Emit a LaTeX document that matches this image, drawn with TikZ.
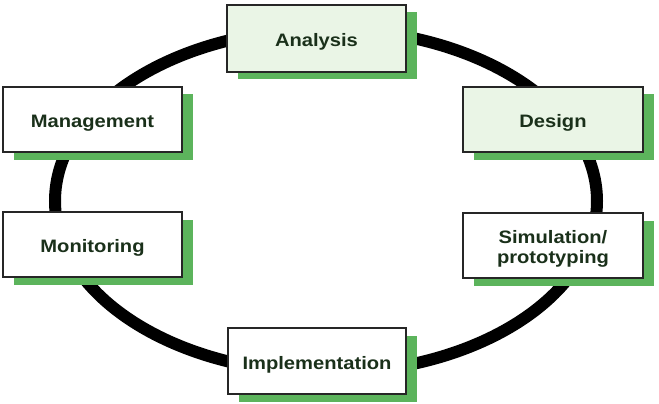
\documentclass[tikz,border=0pt]{standalone}
\usepackage{fontspec}
\setmainfont{Liberation Sans}[FakeStretch=1.12]
\usetikzlibrary{shadows}
\definecolor{shadowgreen}{RGB}{92,180,92}
\definecolor{lightfill}{RGB}{234,245,230}
\definecolor{txt}{RGB}{26,48,26}
\tikzset{
  box/.style={draw=black!85, line width=1.2pt, fill=white, minimum width=179pt, minimum height=65pt,
    inner sep=0pt,
    general shadow={fill=shadowgreen, shadow xshift=10.5pt, shadow yshift=-7.5pt}},
  greenbox/.style={box, fill=lightfill},
  boxtext/.style={align=center, text=txt, font=\fontsize{18}{20}\selectfont\bfseries, yshift=-3.5pt}
}
\begin{document}
\begin{tikzpicture}[x=1pt,y=-1pt]
\useasboundingbox (0,0) rectangle (659,404);
\draw[line width=12pt] (326,201) ellipse [x radius=271, y radius=172];
\node[greenbox, minimum height=67pt] (an) at (316.5,38.5) {};
\node[greenbox, minimum width=180pt] (de) at (553,119.5) {};
\node[box, minimum width=180pt] (si) at (553,245.5) {};
\node[box] (ma) at (92.5,119.5) {};
\node[box] (mo) at (92.5,244.5) {};
\node[box, minimum width=178pt, minimum height=66pt] (im) at (317,361) {};
\node[boxtext] (anT) at (an.center) {Analysis};
\node[boxtext] (deT) at (de.center) {Design};
\node[boxtext] (siT) at (si.center) {Simulation/\\prototyping};
\node[boxtext] (maT) at (ma.center) {Management};
\node[boxtext] (moT) at (mo.center) {Monitoring};
\node[boxtext] (imT) at (im.center) {Implementation};
\end{tikzpicture}
\end{document}
